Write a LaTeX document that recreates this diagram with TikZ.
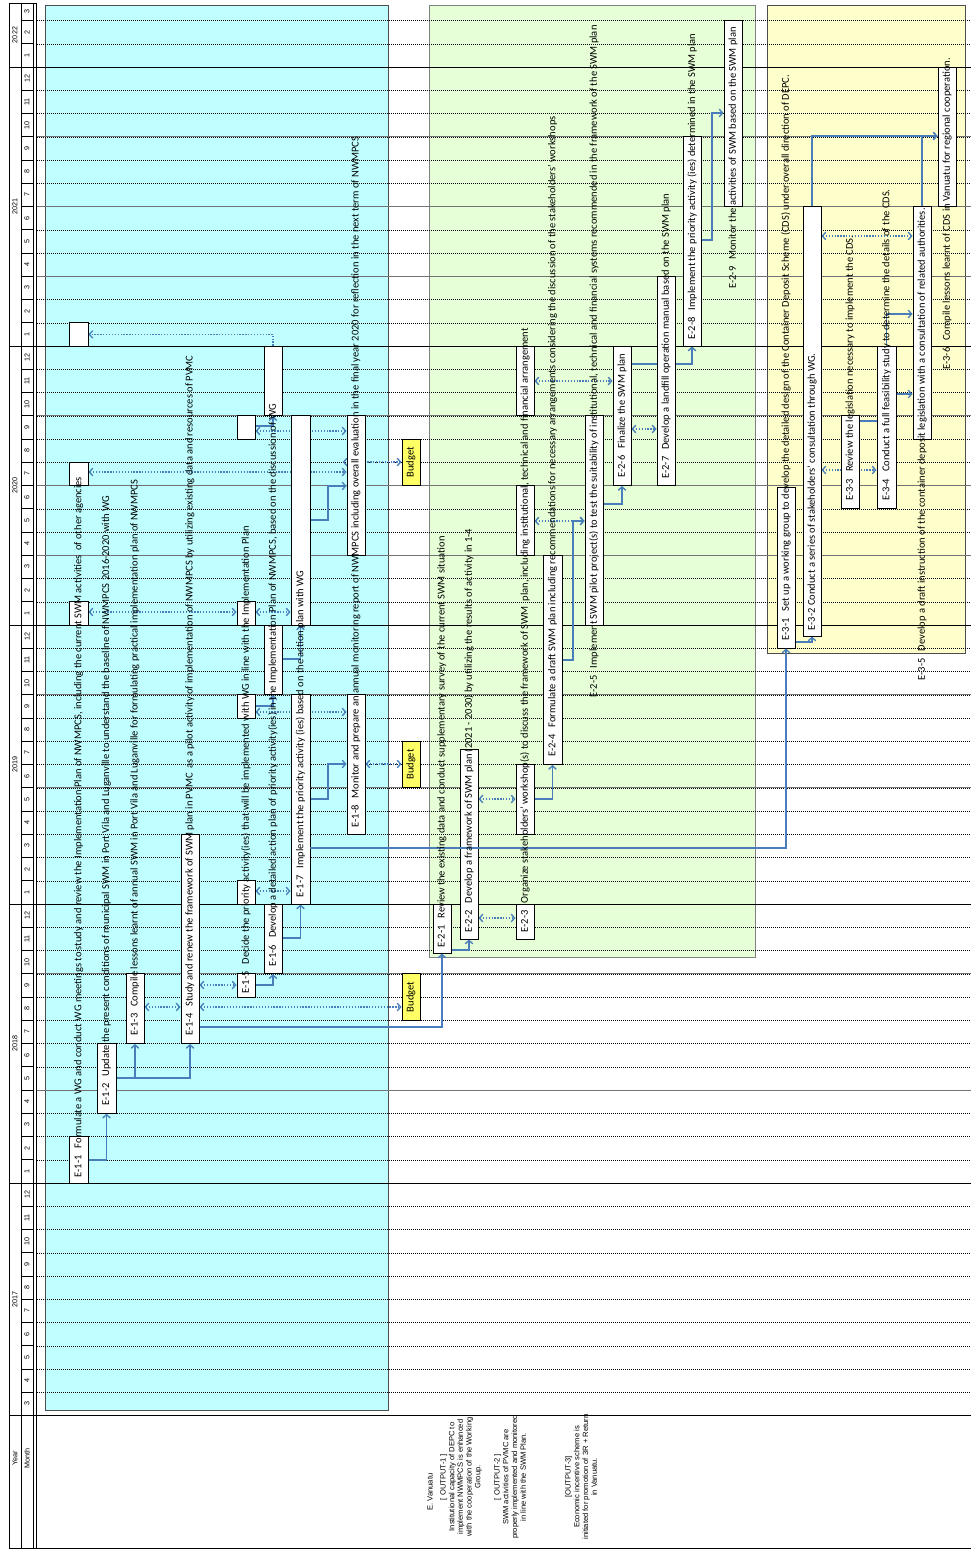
\documentclass[tikz,border=0pt]{standalone}
\usepackage{fontspec}
\setmainfont{Carlito}
\newfontfamily\arial{Liberation Sans}
\usepackage{tikz}
\usetikzlibrary{arrows.meta,fit}
\definecolor{Aqua}{HTML}{C0FFFF}
\definecolor{Lime}{HTML}{E6FFD6}
\definecolor{Cream}{HTML}{FFFFCC}
\definecolor{BudY}{HTML}{FFFF66}
\definecolor{Flow}{HTML}{4A7EBB}
\definecolor{Edge}{HTML}{4D4D4D}
\newcommand\mo[1]{1415.5-23.25*(#1)}
\newcommand\gap{\hspace{7pt}}
\pgfdeclarelayer{grid}
\pgfdeclarelayer{wires}
\pgfsetlayers{grid,wires,main}

\begin{document}
\begin{tikzpicture}[x=1pt,y=-1pt,font=\fontsize{10.5}{12}\selectfont,
    >={Straight Barb[length=3.5pt,width=7.5pt]},
    tbox/.style={draw=black,fill=white,line width=0.8pt,inner sep=0pt},
    bud/.style={draw=black,fill=BudY,line width=0.8pt,inner sep=0pt},
    lab/.style={rotate=90,anchor=west,inner sep=0pt},
    flow/.style={draw=Flow,line width=1.3pt,->},
    dots/.style={draw=Flow,line width=1.3pt,dash pattern=on 1.3pt off 1.6pt},
    link/.style={dots,<->},
    mline/.style={line width=0.4pt,dash pattern=on 1pt off 1pt},
    qline/.style={black!55,line width=0.6pt},
    yline/.style={black,line width=0.8pt},
    hdr/.style={rotate=90,inner sep=0pt,font=\arial\fontsize{7.2}{8.5}\selectfont},
    outtxt/.style={hdr,align=center,font=\arial\fontsize{7.6}{8.7}\selectfont}]
  \useasboundingbox (0,0) rectangle (971,1554);

  % sheet: output areas, month grid, header columns
  \begin{pgfonlayer}{grid}
    \filldraw[fill=Aqua,draw=Edge,line width=0.8pt] (45,5) rectangle (388,1410);
    \filldraw[fill=Lime,draw=gray,line width=0.8pt] (429,5) rectangle (755,957);
    \filldraw[fill=Cream,draw=Edge,line width=0.8pt] (767,5) rectangle (965,653);
    \foreach \t in {1,...,60} \draw[mline] (37,{\mo{\t}}) -- (971,{\mo{\t}});
    \foreach \t in {14,19,27,31,37,40,43,49,52,55} \draw[qline] (37,{\mo{\t}}) -- (971,{\mo{\t}});
    \foreach \t in {10,22,34,46,58} \draw[yline] (9,{\mo{\t}}) -- (971,{\mo{\t}});
    \foreach \t in {1,...,60} \draw[line width=0.6pt] (21,{\mo{\t}}) -- (33,{\mo{\t}});
    \draw[yline] (9,3) -- (36.5,3);
    \draw[yline] (9,1415.5) -- (971,1415.5);
    \draw[yline] (9,1548) -- (971,1548);
    \foreach \x in {9,21,33,36.5} \draw[yline] (\x,3) -- (\x,1548);
  \end{pgfonlayer}

  \foreach \t in {0,...,59} {
    \pgfmathtruncatemacro\m{mod(\t+2,12)+1}
    \node[hdr] (m\t) at (27,{\mo{\t+0.5}}) {\m};
  }
  \node[hdr] (m60) at (27,11.75) {3};
  \foreach \yr/\yy in {2017/1299,2018/1043.5,2019/764.5,2020/485.75,2021/206.75,2022/35}
    \node[hdr] (y\yr) at (15,\yy) {\yr};
  \node[hdr] (hYear) at (15,1458) {Year};
  \node[hdr] (hMonth) at (27,1458) {Month};
  \node[outtxt] (hVan) at (430,1492) {E. Vanuatu};
  \node[outtxt] (hOut1) at (461,1477) {[ OUTPUT-1 ]\\Institutional capacity of DEPC to\\implement NWMPCS is enhanced\\with the cooperation of the Working\\Group.};
  \node[outtxt] (hOut2) at (510,1477) {[ OUTPUT-2 ]\\SWM activities of PVMC are\\properly implemented and monitored\\in line with the SWM Plan.};
  \node[outtxt] (hOut3) at (581,1477) {[OUTPUT-3]\\Economic incentive scheme is\\initiated for promotion of 3R + Return\\in Vanuatu.};

  % output 1 bars
  \node[tbox,fit={(69.5,{\mo{10}}) (88,{\mo{12}})}] (E11) {};
  \node[tbox,fit={(69.5,{\mo{34}}) (88,{\mo{35}})}] (E11b) {};
  \node[tbox,fit={(69.5,{\mo{40}}) (88,{\mo{41}})}] (E11c) {};
  \node[tbox,fit={(69.5,{\mo{46}}) (88,{\mo{47}})}] (E11d) {};
  \node[tbox,fit={(97,{\mo{13}}) (116,{\mo{16}})}] (E12) {};
  \node[tbox,fit={(126,{\mo{16}}) (144,{\mo{19}})}] (E13) {};
  \node[tbox,fit={(181,{\mo{16}}) (199,{\mo{25}})}] (E14) {};
  \node[tbox,fit={(237,{\mo{18}}) (255,{\mo{19}})}] (E15) {};
  \node[tbox,fit={(237,{\mo{22}}) (255,{\mo{23}})}] (E15b) {};
  \node[tbox,fit={(237,{\mo{30}}) (255,{\mo{31}})}] (E15c) {};
  \node[tbox,fit={(237,{\mo{34}}) (255,{\mo{35}})}] (E15d) {};
  \node[tbox,fit={(237,{\mo{42}}) (255,{\mo{43}})}] (E15e) {};
  \node[tbox,fit={(264,{\mo{19}}) (282,{\mo{22}})}] (E16) {};
  \node[tbox,fit={(264,{\mo{31}}) (282,{\mo{34}})}] (E16b) {};
  \node[tbox,fit={(264,{\mo{43}}) (282,{\mo{46}})}] (E16c) {};
  \node[tbox,fit={(291,{\mo{22}}) (310,{\mo{31}})}] (E17) {};
  \node[tbox,fit={(291,{\mo{34}}) (310,{\mo{43}})}] (E17b) {};
  \node[tbox,fit={(347,{\mo{25}}) (365,{\mo{31}})}] (E18) {};
  \node[tbox,fit={(347,{\mo{37}}) (365,{\mo{43}})}] (E18b) {};
  \node[bud,fit={(402,{\mo{17}}) (420,{\mo{19}})}] (B1) {};
  \node[bud,fit={(402,{\mo{27}}) (420,{\mo{29}})}] (B2) {};
  \node[bud,fit={(402,{\mo{40}}) (420,{\mo{42}})}] (B3) {};

  % output 2 bars
  \node[tbox,fit={(433,904) (451,953)}] (E21) {};
  \node[tbox,fit={(460,749) (478,939)}] (E22) {};
  \node[tbox,fit={(516,904) (534,939)}] (E23) {};
  \node[tbox,fit={(516,{\mo{25}}) (534,{\mo{28}})}] (E23b) {};
  \node[tbox,fit={(516,{\mo{37}}) (534,{\mo{40}})}] (E23c) {};
  \node[tbox,fit={(516,{\mo{43}}) (534,{\mo{46}})}] (E23d) {};
  \node[tbox,fit={(543,{\mo{28}}) (562,{\mo{37}})}] (E24) {};
  \node[tbox,fit={(585,{\mo{34}}) (603,{\mo{43}})}] (E25) {};
  \node[tbox,fit={(613,{\mo{40}}) (631,{\mo{46}})}] (E26) {};
  \node[tbox,fit={(657,{\mo{40}}) (675,{\mo{49}})}] (E27) {};
  \node[tbox,fit={(683,{\mo{46}}) (701,{\mo{55}})}] (E28) {};
  \node[tbox,fit={(724,{\mo{52}}) (742,{\mo{60}})}] (E29) {};

  % output 3 bars
  \node[tbox,fit={(777,487) (795,648)}] (E31) {};
  \node[tbox,fit={(803,{\mo{52}}) (821,636)}] (E32) {};
  \node[tbox,fit={(841,{\mo{39}}) (859,{\mo{43}})}] (E33) {};
  \node[tbox,fit={(877,{\mo{39}}) (896,{\mo{46}})}] (E34) {};
  \node[tbox,fit={(913,{\mo{42}}) (931,{\mo{52}})}] (E35) {};
  \node[tbox,fit={(938,{\mo{52}}) (956,{\mo{58}})}] (E36) {};

  \begin{pgfonlayer}{wires}
    \draw[flow] (E11.east |- 0,1160) -| (E12.south);
    \draw[flow] (E12.east |- 0,1078) -| (E13.south);
    \draw[flow] (E12.east |- 0,1078) -| (E14.south);
    \draw[link] (E13.east |- 0,1007) -- (E14.west |- 0,1007);
    \draw[link] (E14.east |- 0,1007) -- (B1.west |- 0,1007);
    \draw[link] (E14.east |- 0,985) -- (E15.west |- 0,985);
    \draw[flow] (E14.east |- 0,1027) -| (E21.south);
    \draw[flow] (E15.east |- 0,985) -| (E16.south);
    \draw[flow] (E16.east |- 0,938) -| (E17.south);
    \draw[link] (E15b.east |- 0,891) -- (E17.west |- 0,891);
    \draw[flow] (E17.east |- 0,799) -- (328,799) |- (E18.west |- 0,764);
    \draw[link] (E18.east |- 0,764) -- (B2.west |- 0,764);
    \draw[flow] (E15c.east |- 0,706) -| (E16b.south);
    \draw[link] (E15c.east |- 0,712) -- (E18.west |- 0,712);
    \draw[flow] (E16b.east |- 0,659) -| (E17b.south);
    \draw[link] (E11b.east |- 0,612) -- (E15d.west |- 0,612);
    \draw[link] (E15d.east |- 0,612) -- (E17b.west |- 0,612);
    \draw[flow] (E17b.east |- 0,520) -- (328,520) |- (E18b.west |- 0,486);
    \draw[link] (E11c.east |- 0,472) -- (E18b.west |- 0,472);
    \draw[link,shorten <=-4pt] (E18b.west |- 0,462) -- (B3.west |- 0,462);
    \draw[flow] (E15e.east |- 0,426) -| (E16c.south);
    \draw[link] (E15e.east |- 0,431) -- (E18b.west |- 0,431);
    \draw[dots,->] (E16c.north) |- (E11d.east);

    \draw[flow] (E21.east |- 0,950) -| (E22.south);
    \draw[link] (E22.east |- 0,918) -- (E23.west |- 0,918);
    \draw[link] (E22.east |- 0,799) -- (E23b.west |- 0,799);
    \draw[flow] (E23b.east |- 0,799) -| (E24.south);
    \draw[flow] (E24.east |- 0,660) -- (573,660) |- (E25.west |- 0,521);
    \draw[link] (E23c.east |- 0,521) -- (E25.west |- 0,521);
    \draw[flow] (E25.east |- 0,504) -| (E26.south);
    \draw[link] (E23d.east |- 0,381) -- (E26.west |- 0,381);
    \draw[link] (E26.east |- 0,429) -- (E27.west |- 0,429);
    \draw[flow] (E26.east |- 0,364) -| (E28.south);
    \draw[flow] (E28.east |- 0,240) -- (712,240) |- (E29.west |- 0,113);

    \draw[flow] (E31.east |- 0,642) -| (E32.south);
    \draw[flow] (E32.north) |- (E36.west |- 0,136);
    \draw[flow] (E35.north) |- (E36.west |- 0,136);
    \draw[link] (E32.east |- 0,236) -- (E35.west |- 0,236);
    \draw[link] (E32.east |- 0,470) -- (E34.west |- 0,470);
    \draw[flow] (E34.north) |- (E35.west |- 0,314);
    \draw[flow] (E33.east |- 0,421) -- (886,421) |- (E35.west |- 0,394);
  \end{pgfonlayer}
  \draw[flow] (E17.east |- 0,848) -| (E31.south);

  \node[lab] (E11t) at ([yshift=6pt]E11.south) {E-1-1\gap Formulate a WG and conduct WG meetings to study and review the Implementation Plan of NWMPCS, including the current SWM activities\ \ of other agencies};
  \node[lab] (E12t) at ([yshift=8pt]E12.south) {E-1-2\gap Update the present conditions of municipal SWM in Port Vila and Luganville to understand the baseline of NWMPCS 2016-2020 with WG};
  \node[lab] (E13t) at ([yshift=8pt]E13.south) {E-1-3\gap Compile lessons learnt of annual SWM in Port Vila and Luganville for formulating practical implementation plan of NWMPCS};
  \node[lab] (E14t) at ([yshift=8pt]E14.south) {E-1-4\gap Study and renew the framework of SWM plan in PVMC\ \ as a pilot activity of implementation of NWMPCS by utilizing existing data and resources of PVMC};
  \node[lab] (E15t) at ([yshift=4pt]E15.south) {E-1-5\gap Decide the priority activity(ies) that will be implemented with WG in line with the Implementation Plan};
  \node[lab] (E16t) at ([yshift=7pt]E16.south) {E-1-6\gap Develop a detailed action plan of priority activity(ies) in the Implementation Plan of NWMPCS, based on the discussion of WG};
  \node[lab] (E17t) at ([yshift=7pt]E17.south) {E-1-7\gap Implement the priority activity (ies) based on the action plan with WG};
  \node[lab] (E18t) at ([yshift=7pt]E18.south) {E-1-8\gap Monitor and prepare an annual monitoring report of NWMPCS including overall evaluation in the final year 2020 for reflection in the next term of NWMPCS};
  \foreach \b in {B1,B2,B3} \node[rotate=90,inner sep=0pt] (\b t) at (\b) {Budget};

  \node[lab] (E21t) at ([yshift=6pt]E21.south) {E-2-1\gap Review the existing data and conduct supplementary survey of the current SWM situation};
  \node[lab] (E22t) at ([yshift=7pt]E22.south) {E-2-2\gap Develop a framework of SWM plan (2021 - 2030) by utilizing the results of activity in 1-4};
  \node[lab] (E23t) at ([yshift=7pt]E23.south) {E-2-3\gap Organize stakeholders’ workshop(s) to discuss the framework of SWM\ \ plan, including institutional, technical and financial arrangement};
  \node[lab] (E24t) at ([yshift=8pt]E24.south) {E-2-4\gap Formulate a draft SWM plan including recommendations for necessary arrangements considering the discussion of the stakeholders’ workshops};
  \node[lab] (E25t) at ([yshift=-72pt]E25.south) {E-2-5\gap Implement SWM pilot project(s) to test the suitability of institutional, technical and financial systems recommended in the framework of the SWM plan};
  \node[lab] (E26t) at ([yshift=8pt]E26.south) {E-2-6\gap Finalize the SWM plan};
  \node[lab] (E27t) at ([yshift=7pt]E27.south) {E-2-7\gap Develop a landfill operation manual based on the SWM plan};
  \node[lab] (E28t) at ([yshift=7pt]E28.south) {E-2-8\gap Implement the priority activity (ies) determined in the SWM plan};
  \node[lab] (E29t) at ([yshift=-82pt]E29.south) {E-2-9\gap Monitor the activities of SWM based on the SWM plan};

  \node[lab] (E31t) at ([yshift=8pt]E31.south) {E-3-1\gap Set up a working group to develop the detailed design of the Container Deposit Scheme (CDS) under overall direction of DEPC.};
  \node[lab] (E32t) at ([yshift=6pt]E32.south) {E-3-2 Conduct a series of stakeholders’ consultation through WG.};
  \node[lab] (E33t) at ([yshift=8pt]E33.south) {E-3-3\gap Review the legislation necessary to implement the CDS.};
  \node[lab] (E34t) at ([yshift=8pt]E34.south) {E-3-4\gap Conduct a full feasibility study to determine the details of the CDS.};
  \node[lab] (E35t) at ([yshift=-241pt]E35.south) {E-3-5\gap Develop a draft instruction of the container deposit legislation with a consultation of related authorities.};
  \node[lab] (E36t) at ([yshift=-163pt]E36.south) {E-3-6\gap Compile lessons learnt of CDS in Vanuatu for regional cooperation.};
\end{tikzpicture}
\end{document}
